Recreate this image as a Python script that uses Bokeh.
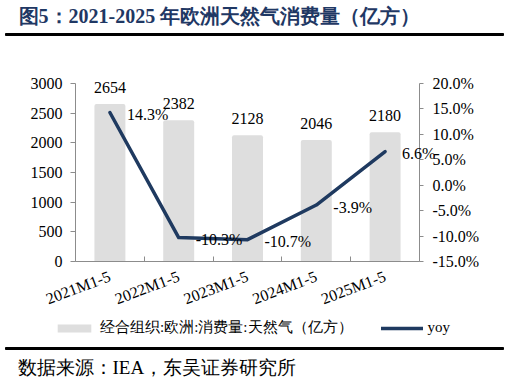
from bokeh.plotting import figure
from bokeh.models import (Range1d, LinearAxis, FixedTicker, PrintfTickFormatter,
                          ColumnDataSource, LabelSet, Label, Legend, LegendItem)
from bokeh.core.properties import value
from bokeh.embed import file_html
from bokeh.resources import INLINE

# ---- data ----
categories = ["2021M1-5", "2022M1-5", "2023M1-5", "2024M1-5", "2025M1-5"]
consumption = [2654, 2382, 2128, 2046, 2180]
yoy = [14.3, -10.3, -10.7, -3.9, 6.6]
left_ticks = [0, 500, 1000, 1500, 2000, 2500, 3000]
right_ticks = [-15, -10, -5, 0, 5, 10, 15, 20]

title_text = "图5：2021-2025 年欧洲天然气消费量（亿方）"
bar_name = "经合组织:欧洲:消费量:天然气（亿方）"
line_name = "yoy"
source_text = "数据来源：IEA，东吴证券研究所"

# ---- styles / layout ----
SERIF = "Liberation Serif"
BAR_COLOR = "#dedede"
LINE_COLOR = "#1f3a60"
TITLE_COLOR = "#1f3864"
AXIS_COLOR = "#8c8c8c"

W, H = 505, 378
PX_L, PX_R = 75, 419      # pixel x of plot area left / right
PY_B, PY_T = 261, 83      # pixel y of value 0 / 3000
N = len(categories)
L_MIN, L_MAX = 0, 3000
R_MIN, R_MAX = -15, 20
RULES_PX = (33, 347)      # pixel y (top edge) of the two horizontal rules
RULE_X_PX = (5, 503)


def xd(px):
    return (px - PX_L) / (PX_R - PX_L) * N


def yd(py):
    return L_MIN + (PY_B - py) / (PY_B - PY_T) * (L_MAX - L_MIN)


def yr(py):
    return R_MIN + (PY_B - py) / (PY_B - PY_T) * (R_MAX - R_MIN)


xs = [i + 0.5 for i in range(N)]
src = ColumnDataSource(dict(
    x=xs, v=consumption, y=yoy,
    vlab=[str(v) for v in consumption],
    ylab=["%.1f%%" % v for v in yoy],
))

p = figure(width=W, height=H, output_backend="svg", toolbar_location=None,
           x_range=Range1d(xd(0), xd(W)), y_range=Range1d(yd(H), yd(0)),
           min_border=0, outline_line_color=None,
           background_fill_color="white", border_fill_color="white")
p.extra_y_ranges = {"yoy": Range1d(yr(H), yr(0))}
p.xgrid.visible = False
p.ygrid.visible = False

# left axis
ya = p.yaxis[0]
ya.fixed_location = 0
ya.bounds = (L_MIN, L_MAX)
ya.ticker = FixedTicker(ticks=left_ticks)
ya.axis_line_color = AXIS_COLOR
ya.major_tick_line_color = AXIS_COLOR
ya.major_tick_in = 0
ya.major_tick_out = 5
ya.minor_tick_line_color = None
ya.major_label_standoff = 8
ya.major_label_text_font = SERIF
ya.major_label_text_font_size = "16px"
ya.major_label_text_color = "black"

# right axis
ra = LinearAxis(y_range_name="yoy", ticker=FixedTicker(ticks=right_ticks),
                formatter=PrintfTickFormatter(format="%.1f%%"),
                bounds=(R_MIN, R_MAX), fixed_location=N)
ra.axis_line_color = AXIS_COLOR
ra.major_tick_line_color = AXIS_COLOR
ra.major_tick_in = 0
ra.major_tick_out = 4
ra.minor_tick_line_color = None
ra.major_label_standoff = 9
ra.major_label_text_font = SERIF
ra.major_label_text_font_size = "16px"
ra.major_label_text_color = "black"
p.add_layout(ra, "right")

# bottom axis
xa = p.xaxis[0]
xa.fixed_location = 0
xa.bounds = (0, N)
xa.ticker = FixedTicker(ticks=xs, minor_ticks=list(range(N + 1)))
xa.major_label_overrides = {x: c for x, c in zip(xs, categories)}
xa.axis_line_color = AXIS_COLOR
xa.major_tick_line_color = None
xa.minor_tick_line_color = AXIS_COLOR
xa.minor_tick_in = 5
xa.minor_tick_out = 0
xa.major_label_orientation = 0.36
xa.major_label_standoff = 8
xa.major_label_text_font = SERIF
xa.major_label_text_font_size = "16px"
xa.major_label_text_color = "black"

# horizontal rules (title separator and footer separator), drawn as thin filled boxes
p.quad(left=[xd(RULE_X_PX[0])] * 2, right=[xd(RULE_X_PX[1])] * 2,
       top=[yd(r) for r in RULES_PX], bottom=[yd(r + 2) for r in RULES_PX],
       fill_color="black", fill_alpha=1, line_color="black", line_width=1)

# glyphs
bars = p.vbar(x="x", top="v", width=0.45, source=src, fill_color=BAR_COLOR,
              line_color=None, border_radius=(2, 2, 0, 0))
line = p.line(x="x", y="y", source=src, y_range_name="yoy", line_color=LINE_COLOR,
              line_width=3.5, line_join="round", line_cap="round")

p.add_layout(LabelSet(x="x", y="v", text="vlab", source=src, text_align="center",
                      text_baseline="middle", y_offset=17, text_font=value(SERIF),
                      text_font_size="16px", text_color="black"))
p.add_layout(LabelSet(x="x", y="y", text="ylab", source=src, y_range_name="yoy",
                      text_align="left", text_baseline="middle", x_offset=17, y_offset=-2,
                      text_font=value(SERIF), text_font_size="16px", text_color="black"))

# legend
legend = Legend(items=[LegendItem(label=bar_name, renderers=[bars]),
                       LegendItem(label=line_name, renderers=[line])],
                orientation="horizontal", location=(53, H - 337),
                glyph_width=42, glyph_height=10, label_height=10, label_standoff=5,
                spacing=28, padding=0, margin=0, border_line_color=None,
                background_fill_alpha=0, label_text_font=SERIF,
                label_text_font_size="15px", label_text_color="black")
p.add_layout(legend, "center")

# title and source
p.add_layout(Label(x=18, y=H - 15, x_units="screen", y_units="screen", text=title_text,
                   text_font=SERIF, text_font_style="bold", text_font_size="20px",
                   text_color=TITLE_COLOR, text_baseline="middle"))
p.add_layout(Label(x=17, y=H - 367, x_units="screen", y_units="screen", text=source_text,
                   text_font=SERIF, text_font_size="19px", text_color="black",
                   text_baseline="middle"))

open("out.html", "w").write(file_html(p, INLINE))
